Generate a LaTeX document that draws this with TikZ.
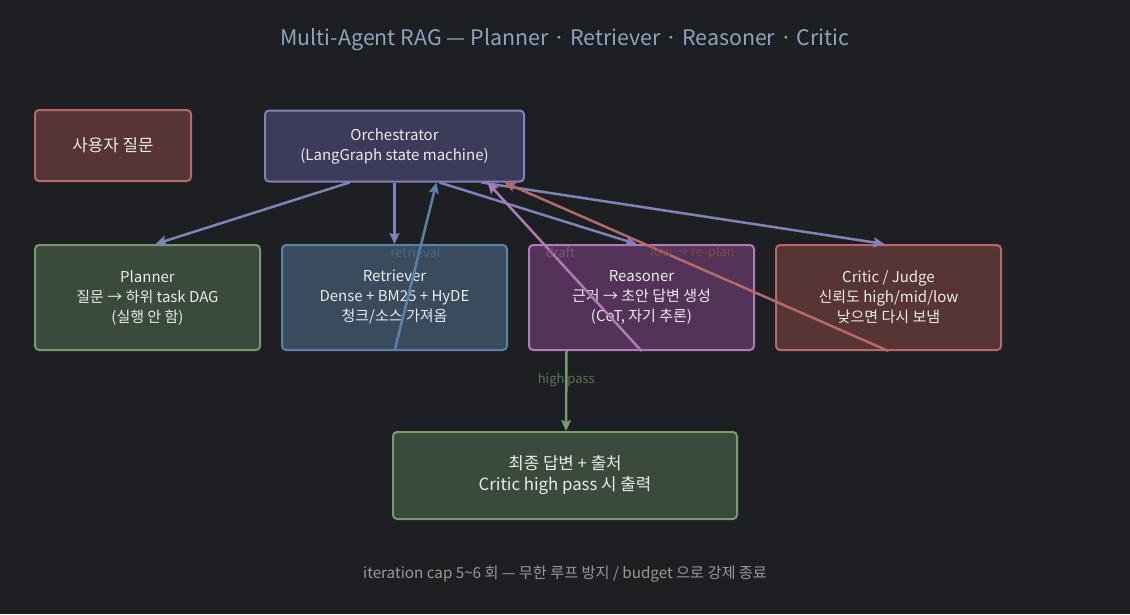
\documentclass[tikz,border=0pt]{standalone}
\usepackage{fontspec}
\setmainfont{Noto Sans CJK KR}
\usetikzlibrary{arrows.meta}
\definecolor{bgc}{HTML}{1E1F22}
\definecolor{titlec}{HTML}{8AA5BF}
\definecolor{redf}{HTML}{583535}
\definecolor{redd}{HTML}{B46A6A}
\definecolor{purf}{HTML}{3C3B5A}
\definecolor{purd}{HTML}{8282BA}
\definecolor{grnf}{HTML}{3A4A3B}
\definecolor{grnd}{HTML}{779A70}
\definecolor{bluf}{HTML}{394B5D}
\definecolor{blud}{HTML}{5A82A8}
\definecolor{vioff}{HTML}{533458}
\definecolor{viod}{HTML}{B07CB6}
\begin{document}
\begin{tikzpicture}[x=1pt,y=-1pt,>={Stealth[length=11pt,width=10pt,inset=2pt]},
    box/.style={draw,line width=2pt,rounded corners=4pt,text=white!92!black,
        align=center,font=\fontsize{15}{20}\selectfont},
    edge/.style={->,line width=2.5pt},
    lbl/.style={midway,yshift=14pt,font=\fontsize{13}{15}\selectfont}]
\fill[bgc] (0,0) rectangle (1130,614);
\useasboundingbox (0,0) rectangle (1130,614);

\node[text=titlec,font=\fontsize{21.4}{26}\selectfont] (title) at (565,39.5)
    {Multi-Agent RAG — Planner · Retriever · Reasoner · Critic};

\node[box,fill=redf,draw=redd,minimum width=156pt,minimum height=71pt,
    font=\fontsize{16.8}{21}\selectfont] (user) at (113,145.5) {사용자 질문};
\node[box,fill=purf,draw=purd,minimum width=259pt,minimum height=71pt] (orch) at (394.5,146)
    {Orchestrator\\(LangGraph state machine)};

\node[box,fill=grnf,draw=grnd,minimum width=225pt,minimum height=105pt] (plan) at (147.5,297.5)
    {Planner\\질문 → 하위 task DAG\\(실행 안 함)};
\node[box,fill=bluf,draw=blud,minimum width=225pt,minimum height=105pt] (retr) at (394.5,297.5)
    {Retriever\\Dense + BM25 + HyDE\\청크/소스 가져옴};
\node[box,fill=vioff,draw=viod,minimum width=225pt,minimum height=105pt] (reas) at (641.5,297.5)
    {Reasoner\\근거 → 초안 답변 생성\\(CoT, 자기 추론)};
\node[box,fill=redf,draw=redd,minimum width=225pt,minimum height=105pt] (crit) at (888.5,297.5)
    {Critic / Judge\\신뢰도 high/mid/low\\낮으면 다시 보냄};

\node[box,fill=grnf,draw=grnd,minimum width=344pt,minimum height=87pt,
    font=\fontsize{16.8}{21}\selectfont] (final) at (565,475.5)
    {최종 답변 + 출처\\Critic high pass 시 출력};

\draw[edge,purd] ([xshift=-45pt]orch.south)--([xshift=8pt]plan.north);
\draw[edge,purd] (orch.south)--(retr.north);
\draw[edge,blud] (retr.south)--([xshift=42pt]orch.south)
    node[lbl,text=blud!80!black]{retrieval};
\draw[edge,purd] ([xshift=45pt]orch.south)--([xshift=-5pt]reas.north);
\draw[edge,purd] ([xshift=87pt]orch.south)--([xshift=-4pt]crit.north);
\draw[edge,viod] (reas.south)--([xshift=93pt]orch.south)
    node[lbl,xshift=-4pt,text=viod!70!black]{draft};
\draw[edge,redd] (crit.south)--([xshift=110pt]orch.south)
    node[lbl,xshift=-4pt,text=redd!70!black]{low → re-plan};
\draw[edge,grnd] ([xshift=-75pt]reas.south)--([xshift=1pt]final.north)
    node[midway,yshift=11pt,text=grnd!75!black,font=\fontsize{13}{15}\selectfont]{high pass};

\node[text=gray!80!white,font=\fontsize{15.2}{18}\selectfont] (foot) at (565,574)
    {iteration cap 5\textasciitilde6 회 — 무한 루프 방지 / budget 으로 강제 종료};
\end{tikzpicture}
\end{document}
